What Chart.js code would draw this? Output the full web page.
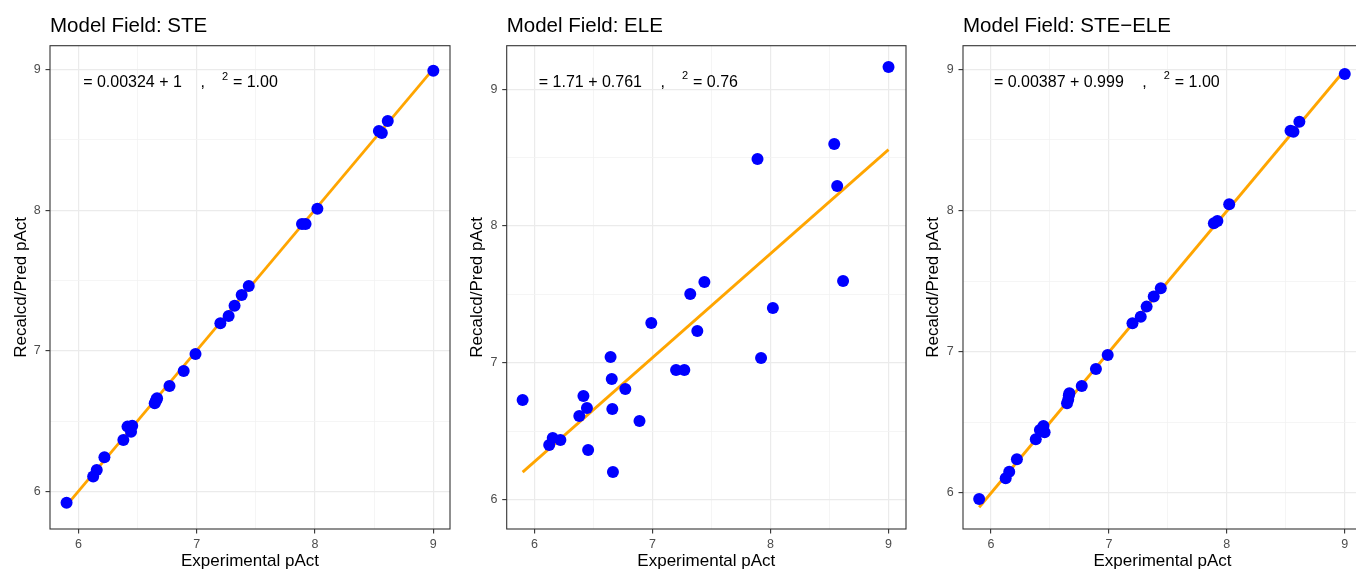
<!DOCTYPE html>
<html><head><meta charset="utf-8">
<script src="https://cdn.jsdelivr.net/npm/chart.js@4/dist/chart.umd.min.js"></script>
<style>
html,body{margin:0;padding:0;background:#fff;overflow:hidden;width:1356px;height:570px;position:relative;}
.p{position:absolute;top:0;width:456px;height:570px;}
canvas{display:block;}
</style></head><body>
<div class="p" style="left:0px"><canvas id="c0" width="456" height="570"></canvas></div>
<div class="p" style="left:456px"><canvas id="c1" width="456" height="570"></canvas></div>
<div class="p" style="left:912px"><canvas id="c2" width="456" height="570"></canvas></div>
<script>
// ---- data ----
const experimental = [5.90, 6.125, 6.155, 6.22, 6.38, 6.415, 6.445, 6.455, 6.645, 6.655, 6.66, 6.665, 6.77, 6.89, 6.99, 7.20, 7.27, 7.32, 7.38, 7.44, 7.89, 7.92, 8.02, 8.54, 8.565, 8.615, 9.00];
const predSTE    = [5.923, 6.108, 6.155, 6.245, 6.368, 6.463, 6.427, 6.470, 6.629, 6.645, 6.655, 6.664, 6.752, 6.858, 6.979, 7.197, 7.248, 7.322, 7.398, 7.461, 7.902, 7.902, 8.010, 8.562, 8.548, 8.633, 8.990];
const predELE    = [6.728, 6.399, 6.450, 6.435, 6.611, 6.757, 6.669, 6.362, 7.042, 6.881, 6.662, 6.201, 6.808, 6.574, 7.291, 6.947, 6.947, 7.503, 7.232, 7.591, 8.490, 7.035, 7.401, 8.600, 8.293, 7.598, 9.163];
const predSTEELE = [5.957, 6.103, 6.150, 6.238, 6.380, 6.445, 6.474, 6.430, 6.635, 6.660, 6.690, 6.705, 6.757, 6.878, 6.977, 7.201, 7.248, 7.319, 7.390, 7.449, 7.909, 7.926, 8.044, 8.565, 8.558, 8.629, 8.967];
const panelTitles = ['Model Field: STE', 'Model Field: ELE', 'Model Field: STE\u2212ELE'];
const fitIntercept = [0.00324, 1.71, 0.00387];
const fitSlope = [1, 0.761, 0.999];
const eqLabels = ['= 0.00324 + 1', '= 1.71 + 0.761', '= 0.00387 + 0.999'];
const r2Labels = ['= 1.00', '= 0.76', '= 1.00'];
const tickValues = [6, 6.5, 7, 7.5, 8, 8.5, 9];
const xTitle = 'Experimental pAct';
const yTitle = 'Recalcd/Pred pAct';

// ---- layout / style config ----
const FONT = '"Liberation Sans", Arial, Helvetica, sans-serif';
const panels = [
  {id:'c0', y: predSTE,    xr:[5.760, 9.141], yr:[5.736, 9.168], yw:50.0, pr:4.3, lab:[6.04, 8.873]},
  {id:'c1', y: predELE,    xr:[5.765, 9.148], yr:[5.784, 9.319], yw:50.7, pr:3.7, lab:[6.037, 9.019]},
  {id:'c2', y: predSTEELE, xr:[5.763, 9.146], yr:[5.744, 9.167], yw:51.0, pr:3.0, lab:[6.025, 8.877]}
];

const isMajor = v => Math.abs(v - Math.round(v)) < 1e-9;

const framePlugin = {
  id:'frame',
  afterDatasetsDraw(chart){
    const a = chart.chartArea, ctx = chart.ctx;
    ctx.save();
    ctx.strokeStyle = '#333333'; ctx.lineWidth = 1.1;
    ctx.strokeRect(a.left, a.top, a.right - a.left, a.bottom - a.top);
    ctx.restore();
  }
};

function annotPlugin(i){
  return {
    id:'annot' + i,
    afterDraw(chart){
      const p = panels[i];
      const ctx = chart.ctx;
      const x0 = chart.scales.x.getPixelForValue(p.lab[0]);
      const y0 = chart.scales.y.getPixelForValue(p.lab[1]);
      ctx.save();
      ctx.fillStyle = '#000'; ctx.textBaseline = 'alphabetic'; ctx.textAlign = 'left';
      ctx.font = '16px ' + FONT;
      ctx.fillText(eqLabels[i], x0, y0);
      let x = x0 + ctx.measureText(eqLabels[i]).width + 18.5;
      ctx.fillText(',', x, y0);
      x += 21.5;
      ctx.font = '11px ' + FONT;
      ctx.fillText('2', x, y0 - 7.5);
      x += 11;
      ctx.font = '16px ' + FONT;
      ctx.fillText(r2Labels[i], x, y0);
      ctx.restore();
    }
  };
}

function axisOpts(range, isX, p){
  const o = {
    type:'linear', min: range[0], max: range[1],
    afterBuildTicks: s => { s.ticks = tickValues.map(v => ({value: v})); },
    border:{display:false},
    grid:{
      color: c => (c.tick && isMajor(c.tick.value)) ? '#EBEBEB' : '#F2F2F2',
      lineWidth: c => (c.tick && isMajor(c.tick.value)) ? 1.2 : 0.8,
      drawTicks:true, tickLength:4.5,
      tickColor: c => (c.tick && isMajor(c.tick.value)) ? '#333333' : 'rgba(0,0,0,0)',
      tickWidth: 1.1
    },
    ticks:{
      autoSkip:false, maxRotation:0, minRotation:0,
      padding: isX ? 4 : 4.8,
      color:'#4D4D4D',
      font:{family:FONT, size:12.5, lineHeight:1.2},
      callback: v => isMajor(v) ? String(Math.round(v)) : ''
    },
    title:{
      display:true, text: isX ? xTitle : yTitle, color:'#000',
      font:{family:FONT, size:17, lineHeight:1},
      padding: isX ? {top:0, bottom:0} : {top:12.5, bottom:0}
    }
  };
  if (isX) o.afterFit = s => { s.height = 41; };
  else o.afterFit = s => { s.width = p.yw; };
  return o;
}

const lineX = [Math.min(...experimental), Math.max(...experimental)];

panels.forEach((p, i) => {
  new Chart(document.getElementById(p.id), {
    type:'scatter',
    data:{datasets:[
      {type:'scatter', data: experimental.map((x, k) => ({x: x, y: p.y[k]})),
       backgroundColor:'#0000FF', borderWidth:0, pointRadius:6, pointHoverRadius:6, order:0},
      {type:'line', data: lineX.map(x => ({x: x, y: fitIntercept[i] + fitSlope[i] * x})),
       borderColor:'#FFA500', borderWidth:2.8, pointRadius:0, fill:false, tension:0, order:1}
    ]},
    options:{
      responsive:false, animation:false, devicePixelRatio:1,
      layout:{padding:{left:0, right:p.pr, top:0, bottom:0}},
      plugins:{
        legend:{display:false}, tooltip:{enabled:false},
        title:{display:true, text: panelTitles[i], align:'start', fullSize:false, color:'#000',
               font:{family:FONT, size:20.5, weight:'normal', lineHeight:1.2},
               padding:{top:14.2, bottom:6.9}}
      },
      scales:{ x: axisOpts(p.xr, true, p), y: axisOpts(p.yr, false, p) }
    },
    plugins:[framePlugin, annotPlugin(i)]
  });
});
</script>
</body></html>
